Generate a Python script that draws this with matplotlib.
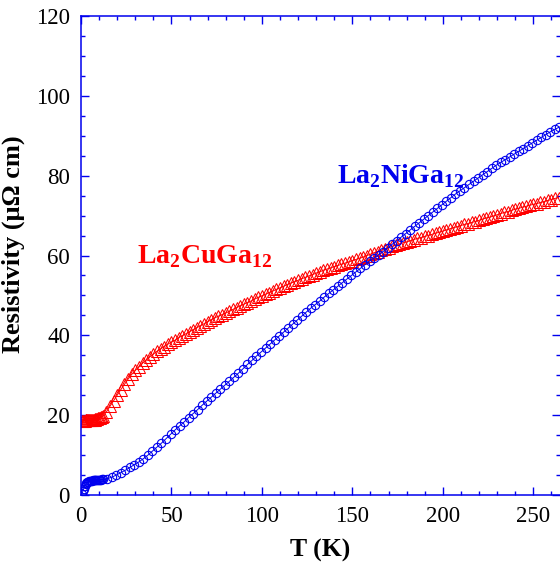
import matplotlib
matplotlib.use("Agg")
import matplotlib.pyplot as plt
from matplotlib.ticker import MultipleLocator

# ---------------- data ----------------
T_cu = [0.5, 1.0, 1.5, 2.0, 2.5, 3.0, 3.5, 4.0, 4.5, 5.0, 5.5, 6.0, 6.5, 7.0, 7.5, 8.0,
        8.5, 9.0, 9.5, 10.0, 10.5, 11.0, 11.5, 12.0,
        14, 16, 18, 20, 22, 24, 26, 28, 30, 32, 34, 36, 38, 40, 42, 44, 46, 48, 50,
        52, 54, 56, 58, 60, 62, 64, 66, 68, 70, 72, 74, 76, 78, 80, 82, 84, 86, 88, 90,
        92, 94, 96, 98, 100, 102, 104, 106, 108, 110, 112, 114, 116, 118, 120, 122, 124,
        126, 128, 130, 132, 134, 136, 138, 140, 142, 144, 146, 148, 150, 152, 154, 156,
        158, 160, 162, 164, 166, 168, 170, 172, 174, 176, 178, 180, 182, 184, 186, 188,
        190, 192, 194, 196, 198, 200, 202, 204, 206, 208, 210, 212, 214, 216, 218, 220,
        222, 224, 226, 228, 230, 232, 234, 236, 238, 240, 242, 244, 246, 248, 250, 252,
        254, 256, 258, 260, 262, 264]
rho_cu = [18.6, 18.6, 18.6, 18.6, 18.7, 18.7, 18.7, 18.7, 18.8, 18.8, 18.8, 18.8, 18.9,
          18.9, 18.9, 19.0, 19.0, 19.1, 19.2, 19.3, 19.4, 19.5, 19.6, 19.8,
          20.8, 22.2, 23.6, 25.0, 26.4, 27.7, 29.0, 30.2, 31.2, 32.1, 33.0, 33.8, 34.6,
          35.3, 36.0, 36.6, 37.2, 37.8, 38.3, 38.8, 39.4, 39.9, 40.4, 40.9, 41.4, 41.9,
          42.4, 42.9, 43.4, 43.9, 44.4, 44.8, 45.2, 45.6, 46.0, 46.5, 46.9, 47.4, 47.8,
          48.2, 48.6, 49.1, 49.5, 49.9, 50.3, 50.7, 51.1, 51.5, 51.9, 52.3, 52.7, 53.1,
          53.4, 53.8, 54.2, 54.5, 54.9, 55.2, 55.6, 55.9, 56.3, 56.6, 56.9, 57.2, 57.5,
          57.8, 58.1, 58.4, 58.7, 59.0, 59.3, 59.6, 60.0, 60.3, 60.7, 61.0, 61.3, 61.7,
          62.0, 62.3, 62.6, 62.9, 63.2, 63.4, 63.7, 64.0, 64.3, 64.5, 64.8, 65.0, 65.3,
          65.6, 65.8, 66.1, 66.4, 66.7, 67.0, 67.2, 67.5, 67.8, 68.0, 68.3, 68.5, 68.8,
          69.1, 69.4, 69.6, 69.9, 70.2, 70.5, 70.8, 71.0, 71.3, 71.6, 71.8, 72.1, 72.3,
          72.6, 72.8, 73.0, 73.3, 73.5, 73.8, 74.0, 74.3, 74.5]

T_ni = [0.5, 1.0, 1.5, 2.0, 2.5, 3.0, 3.5, 4.0, 4.5, 5.0, 5.5, 6.0, 6.5, 7.0, 7.5, 8.0,
        8.5, 9.0, 9.5, 10.0, 10.5, 11.0, 11.5, 12.0,
        14.5, 17, 19.5, 22, 24.5, 27, 29.5, 32, 34.5, 37, 39.5, 42, 44.5, 47, 49.5, 52,
        54.5, 57, 59.5, 62, 64.5, 67, 69.5, 72, 74.5, 77, 79.5, 82, 84.5, 87, 89.5, 92,
        94.5, 97, 99.5, 102, 104.5, 107, 109.5, 112, 114.5, 117, 119.5, 122, 124.5, 127,
        129.5, 132, 134.5, 137, 139.5, 142, 144.5, 147, 149.5, 152, 154.5, 157, 159.5,
        162, 164.5, 167, 169.5, 172, 174.5, 177, 179.5, 182, 184.5, 187, 189.5, 192,
        194.5, 197, 199.5, 202, 204.5, 207, 209.5, 212, 214.5, 217, 219.5, 222, 224.5,
        227, 229.5, 232, 234.5, 237, 239.5, 242, 244.5, 247, 249.5, 252, 254.5, 257,
        259.5, 262, 264.5]
rho_ni = [0.3, 0.9, 1.6, 2.2, 2.7, 3.0, 3.2, 3.35, 3.45, 3.5, 3.55, 3.6, 3.65, 3.7, 3.7,
          3.75, 3.75, 3.8, 3.8, 3.8, 3.85, 3.85, 3.9, 3.9,
          4.1, 4.45, 5.0, 5.6, 6.2, 6.9, 7.6, 8.3, 9.1, 10.0, 11.0, 12.0, 13.0, 14.1,
          15.2, 16.3, 17.3, 18.3, 19.4, 20.4, 21.4, 22.5, 23.5, 24.5, 25.5, 26.5, 27.5,
          28.5, 29.5, 30.5, 31.6, 32.7, 33.7, 34.8, 35.8, 36.8, 37.8, 38.8, 39.8, 40.8,
          41.8, 42.8, 43.8, 44.8, 45.8, 46.8, 47.7, 48.6, 49.6, 50.5, 51.4, 52.3, 53.2,
          54.1, 55.0, 55.9, 56.8, 57.7, 58.6, 59.4, 60.2, 61.0, 61.9, 62.8, 63.7, 64.6,
          65.5, 66.4, 67.3, 68.2, 69.1, 70.0, 70.9, 71.8, 72.7, 73.6, 74.5, 75.4, 76.2,
          77.0, 77.8, 78.6, 79.4, 80.2, 81.0, 81.8, 82.6, 83.3, 84.0, 84.7, 85.4, 86.1,
          86.8, 87.5, 88.2, 88.9, 89.6, 90.3, 91.0, 91.6, 92.2]

x_ticks = [0, 50, 100, 150, 200, 250]
y_ticks = [0, 20, 40, 60, 80, 100, 120]
label_cu = r"La$_{\mathbf{2}}$CuGa$_{\mathbf{12}}$"
label_ni = r"La$_{\mathbf{2}}$NiGa$_{\mathbf{12}}$"

# ---------------- figure ----------------
plt.rcParams['font.family'] = ['Liberation Serif', 'DejaVu Serif']
plt.rcParams['mathtext.fontset'] = 'custom'
plt.rcParams['mathtext.rm'] = 'Liberation Serif'
plt.rcParams['mathtext.bf'] = 'Liberation Serif:bold'

W, H = 560, 568
fig = plt.figure(figsize=(W / 100, H / 100), dpi=100)
ax = fig.add_axes([81 / W, (H - 495) / H, (560 - 81) / W, (495 - 16) / H])

blue = '#0000ee'
red = '#ff0000'

ax.plot(T_cu, rho_cu, color=red, lw=0.7, marker='^', ms=8.5, mfc='none', mec=red,
        mew=0.75)
ax.plot(T_ni, rho_ni, color=blue, lw=0.7, marker='o', ms=6, mfc='none', mec=blue,
        mew=0.8)

ax.set_xlim(0, 264.8)
ax.set_ylim(0, 120)
ax.set_xticks(x_ticks)
ax.set_yticks(y_ticks)
ax.xaxis.set_minor_locator(MultipleLocator(10))
ax.yaxis.set_minor_locator(MultipleLocator(5))

for s in ['left', 'bottom', 'top']:
    ax.spines[s].set_color(blue)
    ax.spines[s].set_linewidth(1.1)
ax.spines['right'].set_visible(False)

ax.tick_params(which='both', direction='in', top=True, right=True, color=blue,
               labelcolor='black', labelsize=16.5, width=1.0)
ax.tick_params(which='major', length=6)
ax.tick_params(which='minor', length=3)
ax.tick_params(axis='x', pad=8)
ax.tick_params(axis='y', pad=8)

ax.set_xlabel('T (K)', fontsize=18.5, fontweight='bold')
ax.xaxis.set_label_coords(0.5, -0.092)
ax.set_ylabel(r'Resistivity (μΩ cm)', fontsize=19, fontweight='bold')
ax.yaxis.set_label_coords(-0.117, 0.523)

ax.text(0.116, 0.484, label_cu, transform=ax.transAxes, color=red, fontsize=20,
        fontweight='bold', ha='left', va='baseline')
ax.text(0.535, 0.651, label_ni, transform=ax.transAxes, color=blue, fontsize=20,
        fontweight='bold', ha='left', va='baseline')

fig.savefig('out.png', dpi=100)
